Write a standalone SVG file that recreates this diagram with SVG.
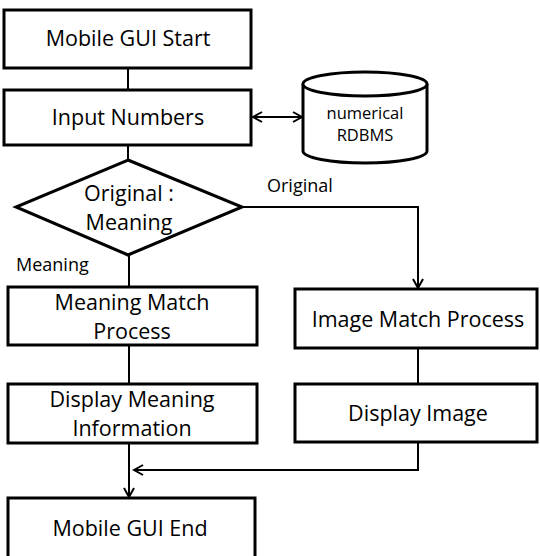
<svg xmlns="http://www.w3.org/2000/svg" width="540" height="556" viewBox="0 0 540 556">
<style>
.box{fill:#fff;stroke:#000;stroke-width:3}
.t{font-family:"Open Sans","Noto Sans",sans-serif;font-size:21.5px;fill:#000;text-anchor:middle}
.s{font-family:"Open Sans","Noto Sans",sans-serif;font-size:18px;fill:#000}
.d{font-family:"Open Sans","Noto Sans",sans-serif;font-size:16.5px;fill:#000;text-anchor:middle}
.c{fill:none;stroke:#000;stroke-width:2}
</style>
<defs>
<marker id="a" markerWidth="12" markerHeight="12" refX="10" refY="6" orient="auto-start-reverse" markerUnits="userSpaceOnUse">
<path d="M1,1 L10,6 L1,11" fill="none" stroke="#000" stroke-width="2"/>
</marker>
</defs>
<g id="connectors">
<line class="c" x1="128" y1="68" x2="128" y2="90"/>
<line class="c" x1="128" y1="145" x2="128" y2="160"/>
<line class="c" x1="253" y1="117" x2="302" y2="117" marker-start="url(#a)" marker-end="url(#a)"/>
<polyline class="c" points="242,207 418,207 418,288" marker-end="url(#a)"/>
<line class="c" x1="129" y1="255" x2="129" y2="287"/>
<line class="c" x1="129" y1="345" x2="129" y2="384"/>
<line class="c" x1="418" y1="348" x2="418" y2="384"/>
<line class="c" x1="129" y1="443" x2="129" y2="497" marker-end="url(#a)"/>
<polyline class="c" points="418,442 418,470 134,470" marker-end="url(#a)"/>
<text class="s" x="16" y="271">Meaning</text>
<text class="s" x="267" y="192">Original</text>
</g>
<g id="start">
<rect class="box" x="4" y="10" width="247" height="58"/>
<text class="t" x="128" y="46">Mobile GUI Start</text>
</g>
<g id="input">
<rect class="box" x="4" y="90" width="247" height="55"/>
<text class="t" x="128" y="125">Input Numbers</text>
</g>
<g id="db">
<path class="box" d="M303,84 L303,151 A62,12 0 0 0 427,151 L427,84"/>
<ellipse class="box" cx="365" cy="84" rx="62" ry="12"/>
<text class="d" x="365" y="119">numerical</text>
<text class="d" x="365" y="141">RDBMS</text>
</g>
<g id="decision">
<polygon class="box" points="128,160 242,207 128,255 16,207"/>
<text class="t" x="129" y="201">Original :</text>
<text class="t" x="129" y="230">Meaning</text>
</g>
<g id="meaningMatch">
<rect class="box" x="8" y="287" width="249" height="58"/>
<text class="t" x="132" y="310">Meaning Match</text>
<text class="t" x="132" y="339">Process</text>
</g>
<g id="displayMeaning">
<rect class="box" x="8" y="384" width="249" height="59"/>
<text class="t" x="132" y="407">Display Meaning</text>
<text class="t" x="132" y="436">Information</text>
</g>
<g id="imageMatch">
<rect class="box" x="295" y="289" width="242" height="59"/>
<text class="t" x="418" y="327">Image Match Process</text>
</g>
<g id="displayImage">
<rect class="box" x="295" y="384" width="242" height="58"/>
<text class="t" x="418" y="421">Display Image</text>
</g>
<g id="end">
<rect class="box" x="8" y="498" width="247" height="64"/>
<text class="t" x="130" y="536">Mobile GUI End</text>
</g>
</svg>
